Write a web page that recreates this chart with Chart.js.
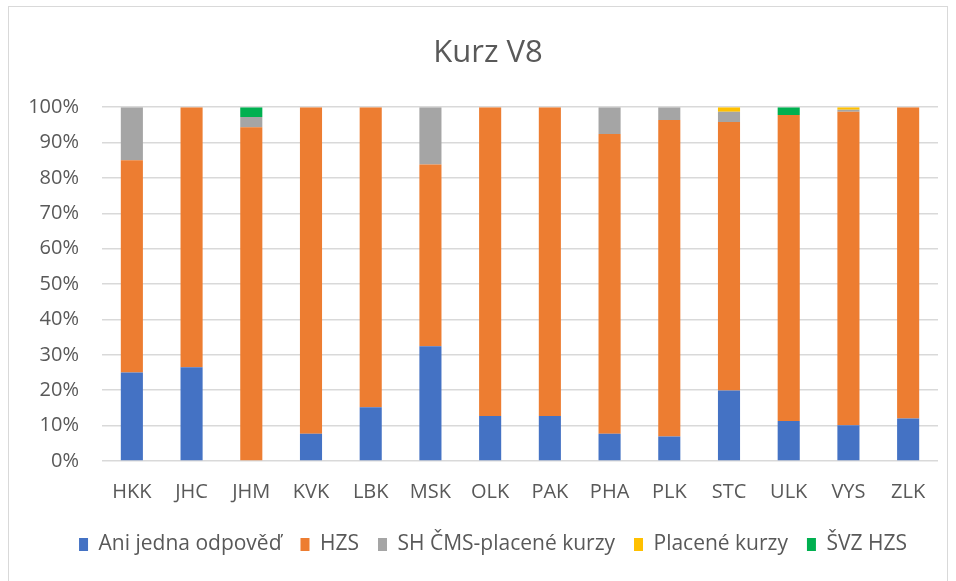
<!DOCTYPE html>
<html>
<head>
<meta charset="utf-8">
<script src="https://cdn.jsdelivr.net/npm/chart.js@4.4.1/dist/chart.umd.min.js"></script>
<style>
  html, body { margin: 0; padding: 0; background: #fff; }
  #wrap { position: relative; width: 956px; height: 581px; }
  #frame {
    position: absolute; left: 8px; top: 6px; width: 940px; height: 590px;
    border: 1.5px solid #d9d9d9; box-sizing: border-box; pointer-events: none;
  }
</style>
</head>
<body>
<div id="wrap">
  <canvas id="chart" width="956" height="581"></canvas>
  <div id="frame"></div>
</div>
<script>
// kraje
const categories = ['HKK', 'JHC', 'JHM', 'KVK', 'LBK', 'MSK', 'OLK', 'PAK', 'PHA', 'PLK', 'STC', 'ULK', 'VYS', 'ZLK'];

// podíly v %
const aniJedna = [25, 26.5, 0, 7.7, 15.2, 32.4, 12.7, 12.7, 7.7, 6.9, 19.9, 11.3, 10.1, 12.0];
const hzs      = [60, 73.5, 94.3, 92.3, 84.8, 51.4, 87.3, 87.3, 84.7, 89.5, 75.9, 86.5, 88.6, 88.0];
const shCms    = [15, 0, 2.9, 0, 0, 16.2, 0, 0, 7.6, 3.6, 2.9, 0, 0.6, 0];
const placene  = [0, 0, 0, 0, 0, 0, 0, 0, 0, 0, 1.3, 0, 0.7, 0];
const svzHzs   = [0, 0, 2.8, 0, 0, 0, 0, 0, 0, 0, 0, 2.2, 0, 0];

const yTicks = [0, 10, 20, 30, 40, 50, 60, 70, 80, 90, 100];

const textColor = '#595959';
const fontFamily = '"Open Sans", "Liberation Sans", sans-serif';

function ds(label, data, color) {
    return {
        label: label,
        data: data,
        backgroundColor: color,
        borderWidth: 0,
        categoryPercentage: 1,
        barPercentage: 0.37
    };
}

// titulek a legenda jsou v originále posunuté doprava (střed celého rámečku)
const shiftBoxes = {
    id: 'shiftBoxes',
    afterLayout(chart) {
        const move = (box, dx) => {
            if (!box) return;
            box.left += dx;
            box.right += dx;
        };
        move(chart.titleBlock, 19);
        move(chart.legend, 24);
    }
};

const ctx = document.getElementById('chart').getContext('2d');
new Chart(ctx, {
    type: 'bar',
    data: {
        labels: categories,
        datasets: [
            ds('Ani jedna odpověď', aniJedna, '#4472C4'),
            ds('HZS', hzs, '#ED7D31'),
            ds('SH ČMS-placené kurzy', shCms, '#A5A5A5'),
            ds('Placené kurzy', placene, '#FFC000'),
            ds('ŠVZ HZS', svzHzs, '#00B050')
        ]
    },
    plugins: [shiftBoxes],
    options: {
        responsive: false,
        animation: false,
        layout: { padding: { left: 0, right: 18, top: 0, bottom: 16 } },
        plugins: {
            title: {
                display: true,
                text: 'Kurz V8',
                color: textColor,
                font: { family: fontFamily, size: 31, weight: 'normal' },
                padding: { top: 35, bottom: 35 }
            },
            legend: {
                position: 'bottom',
                labels: {
                    color: textColor,
                    font: { family: fontFamily, size: 21 },
                    boxWidth: 9,
                    boxHeight: 13,
                    padding: 19
                }
            },
            tooltip: { enabled: false }
        },
        scales: {
            x: {
                stacked: true,
                grid: { display: false },
                border: { display: false },
                ticks: {
                    color: textColor,
                    font: { family: fontFamily, size: 20 },
                    padding: 11,
                    maxRotation: 0
                }
            },
            y: {
                stacked: true,
                min: 0,
                max: 100,
                afterFit: function (scale) { scale.width = 102; },
                afterBuildTicks: function (scale) {
                    scale.ticks = yTicks.map(function (v) { return { value: v }; });
                },
                grid: { color: '#d9d9d9', lineWidth: 1.5, drawTicks: false },
                border: { display: false },
                ticks: {
                    color: textColor,
                    font: { family: fontFamily, size: 20 },
                    padding: 23,
                    callback: function (v) { return v + '%'; }
                }
            }
        }
    }
});
</script>
</body>
</html>
